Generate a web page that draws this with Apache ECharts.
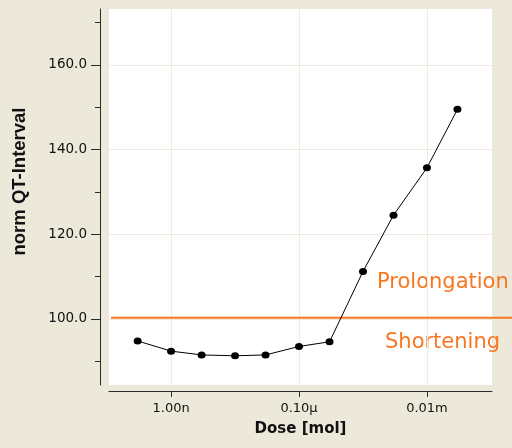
<!DOCTYPE html>
<html>
<head>
<meta charset="utf-8">
<script src="https://cdn.jsdelivr.net/npm/echarts@6/dist/echarts.min.js"></script>
<style>
  html, body { margin: 0; padding: 0; background: #ECE8DA; }
  #chart { width: 512px; height: 448px; }
</style>
</head>
<body>
<div id="chart"></div>
<script>
// Dose–response of the normalised QT interval
const doses = [3e-10, 1e-9, 3e-9, 1e-8, 3e-8, 1e-7, 3e-7, 1e-6, 3e-6, 1e-5, 3e-5];
const qtValues = [94.8, 92.4, 91.5, 91.3, 91.5, 93.5, 94.6, 111.2, 124.5, 135.7, 149.5];

// axis ticks
const xTickValues = [1e-9, 1e-7, 1e-5];
const xTickLabels = ['1.00n', '0.10µ', '0.01m'];
const yTickValues = [100, 120, 140, 160];
const yMinorValues = [90, 110, 130, 150, 170];

// baseline separating prolongation from shortening (runs out to the page edge)
const referenceLevel = 100.3;
const referenceSpan = [1.15e-10, 2.2e-4];

const ORANGE = '#F7761F';
const AXIS = '#2b2b2b';
const GRID = '#EEEADF';
const tickFont = 'DejaVu Sans';

const xRange = { min: 1.07e-10, max: 1.04e-4 };
const yRange = { min: 84.4, max: 173.2 };

const chart = echarts.init(document.getElementById('chart'), null, { renderer: 'canvas' });

chart.setOption({
  backgroundColor: '#ECE8DA',
  animation: false,
  grid: [
    // main plotting area
    { left: 109, right: 20, top: 9, bottom: 63, show: true, backgroundColor: '#ffffff', borderWidth: 0 },
    // same scale, extended to the right edge for the reference line
    { left: 109, right: 0, top: 9, bottom: 63, show: false }
  ],
  xAxis: [
    {
      type: 'log', logBase: 10, gridIndex: 0,
      min: xRange.min, max: xRange.max,
      offset: 6,
      name: 'Dose [mol]',
      nameLocation: 'middle',
      nameGap: 31,
      nameTextStyle: { fontFamily: 'DejaVu Sans', fontWeight: 'bold', fontSize: 15, color: '#111' },
      axisLine: { show: true, lineStyle: { color: AXIS, width: 1 } },
      axisTick: { show: true, length: 6, lineStyle: { color: AXIS }, customValues: xTickValues },
      axisLabel: {
        customValues: xTickValues,
        margin: 11,
        fontFamily: tickFont, fontSize: 13, color: '#111',
        formatter: v => {
          const i = xTickValues.findIndex(t => Math.abs(Math.log10(t) - Math.log10(v)) < 1e-6);
          return i >= 0 ? xTickLabels[i] : '';
        }
      },
      splitLine: { show: true, lineStyle: { color: GRID, width: 1 } },
      minorTick: { show: false },
      minorSplitLine: { show: false }
    },
    {
      type: 'log', logBase: 10, gridIndex: 1,
      min: xRange.min, max: referenceSpan[1],
      show: false
    }
  ],
  yAxis: [
    {
      type: 'value', gridIndex: 0, position: 'left',
      min: yRange.min, max: yRange.max,
      offset: 9,
      name: 'norm QT-Interval',
      nameLocation: 'middle',
      nameGap: 71,
      nameTextStyle: {
        fontFamily: 'Liberation Sans', fontWeight: 'bold', fontSize: 18.5, color: '#111',
        padding: [0, 0, 0, 31]
      },
      axisLine: { show: true, lineStyle: { color: AXIS, width: 1 } },
      axisTick: { show: true, length: 9, lineStyle: { color: AXIS }, customValues: yTickValues },
      axisLabel: {
        customValues: yTickValues,
        margin: 13,
        fontFamily: tickFont, fontSize: 13.5, color: '#111',
        formatter: v => v.toFixed(1)
      },
      splitLine: { show: true, lineStyle: { color: GRID, width: 1 } }
    },
    {
      type: 'value', gridIndex: 0, position: 'left',
      min: yRange.min, max: yRange.max,
      offset: 9,
      axisLine: { show: false },
      axisTick: { show: true, length: 5, lineStyle: { color: AXIS }, customValues: yMinorValues },
      axisLabel: { show: false, customValues: yMinorValues },
      splitLine: { show: false }
    },
    {
      type: 'value', gridIndex: 1,
      min: yRange.min, max: yRange.max,
      show: false
    }
  ],
  series: [
    {
      name: 'reference',
      type: 'line',
      xAxisIndex: 1, yAxisIndex: 2,
      silent: true,
      symbol: 'none',
      data: referenceSpan.map(d => [d, referenceLevel]),
      lineStyle: { color: ORANGE, width: 2 },
      z: 1
    },
    {
      name: 'QT',
      type: 'line',
      xAxisIndex: 0, yAxisIndex: 0,
      data: doses.map((d, i) => [d, qtValues[i]]),
      symbol: 'circle',
      symbolSize: [8, 7],
      itemStyle: { color: '#000' },
      lineStyle: { color: '#000', width: 1 },
      z: 3
    }
  ],
  graphic: [
    {
      type: 'text', left: 377, top: 272,
      style: { text: 'Prolongation', fill: ORANGE, font: '21px "DejaVu Sans"' }
    },
    {
      type: 'text', left: 385, top: 332,
      style: { text: 'Shortening', fill: ORANGE, font: '21px "DejaVu Sans"' }
    }
  ]
});
</script>
</body>
</html>
